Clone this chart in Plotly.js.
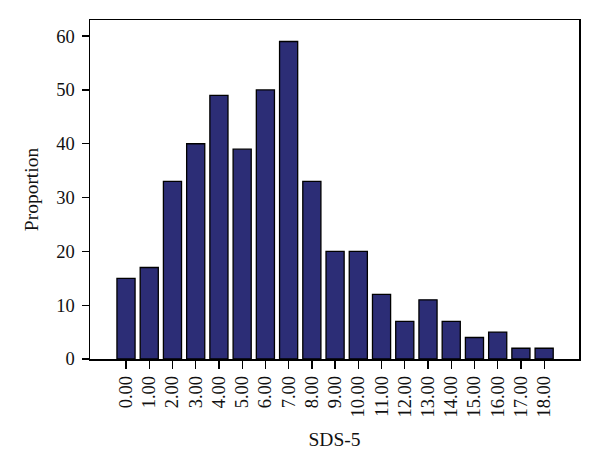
<!DOCTYPE html>
<html>
<head>
<meta charset="utf-8">
<script src="https://cdn.plot.ly/plotly-3.0.1.min.js"></script>
<style>html,body{margin:0;padding:0;background:#fff;}#chart{width:600px;height:474px;}</style>
</head>
<body>
<div id="chart"></div>
<script>
const categories = ["0.00","1.00","2.00","3.00","4.00","5.00","6.00","7.00","8.00","9.00","10.00","11.00","12.00","13.00","14.00","15.00","16.00","17.00","18.00"];
const values = [15,17,33,40,49,39,50,59,33,20,20,12,7,11,7,4,5,2,2];
const yTicks = [0,10,20,30,40,50,60];

const fam = '"Liberation Serif", serif';
const font = {family: fam, color: '#111', size: 18.5};

Plotly.newPlot('chart', [{
  type: 'bar',
  x: categories,
  y: values,
  width: 0.78,
  marker: {color: 'rgb(44,45,118)', line: {color: '#000', width: 1.3}},
  hoverinfo: 'none'
}], {
  width: 600, height: 474,
  margin: {l: 90, r: 21, t: 20, b: 115},
  paper_bgcolor: '#fff', plot_bgcolor: '#fff',
  font: font,
  showlegend: false,
  xaxis: {
    type: 'category',
    range: [-1.55, 19.5],
    tickangle: -90,
    ticks: 'outside', ticklen: 8, tickwidth: 1.3, tickcolor: '#000',
    showline: true, linecolor: '#000', linewidth: 1.5, mirror: true,
    showgrid: false, zeroline: false,
    tickfont: font,
    title: {text: 'SDS-5', font: {family: fam, size: 19.5, color: '#111'}, standoff: 16},
    automargin: false
  },
  yaxis: {
    range: [0, 63],
    tickvals: yTicks,
    ticks: 'outside', ticklen: 7, tickwidth: 1.3, tickcolor: '#000',
    ticklabelstandoff: 3,
    showline: true, linecolor: '#000', linewidth: 1.5, mirror: true,
    showgrid: false, zeroline: false,
    tickfont: font,
    title: {text: 'Proportion', font: {family: fam, size: 19.5, color: '#111'}, standoff: 12},
    automargin: false
  }
}, {staticPlot: true});
</script>
</body>
</html>
